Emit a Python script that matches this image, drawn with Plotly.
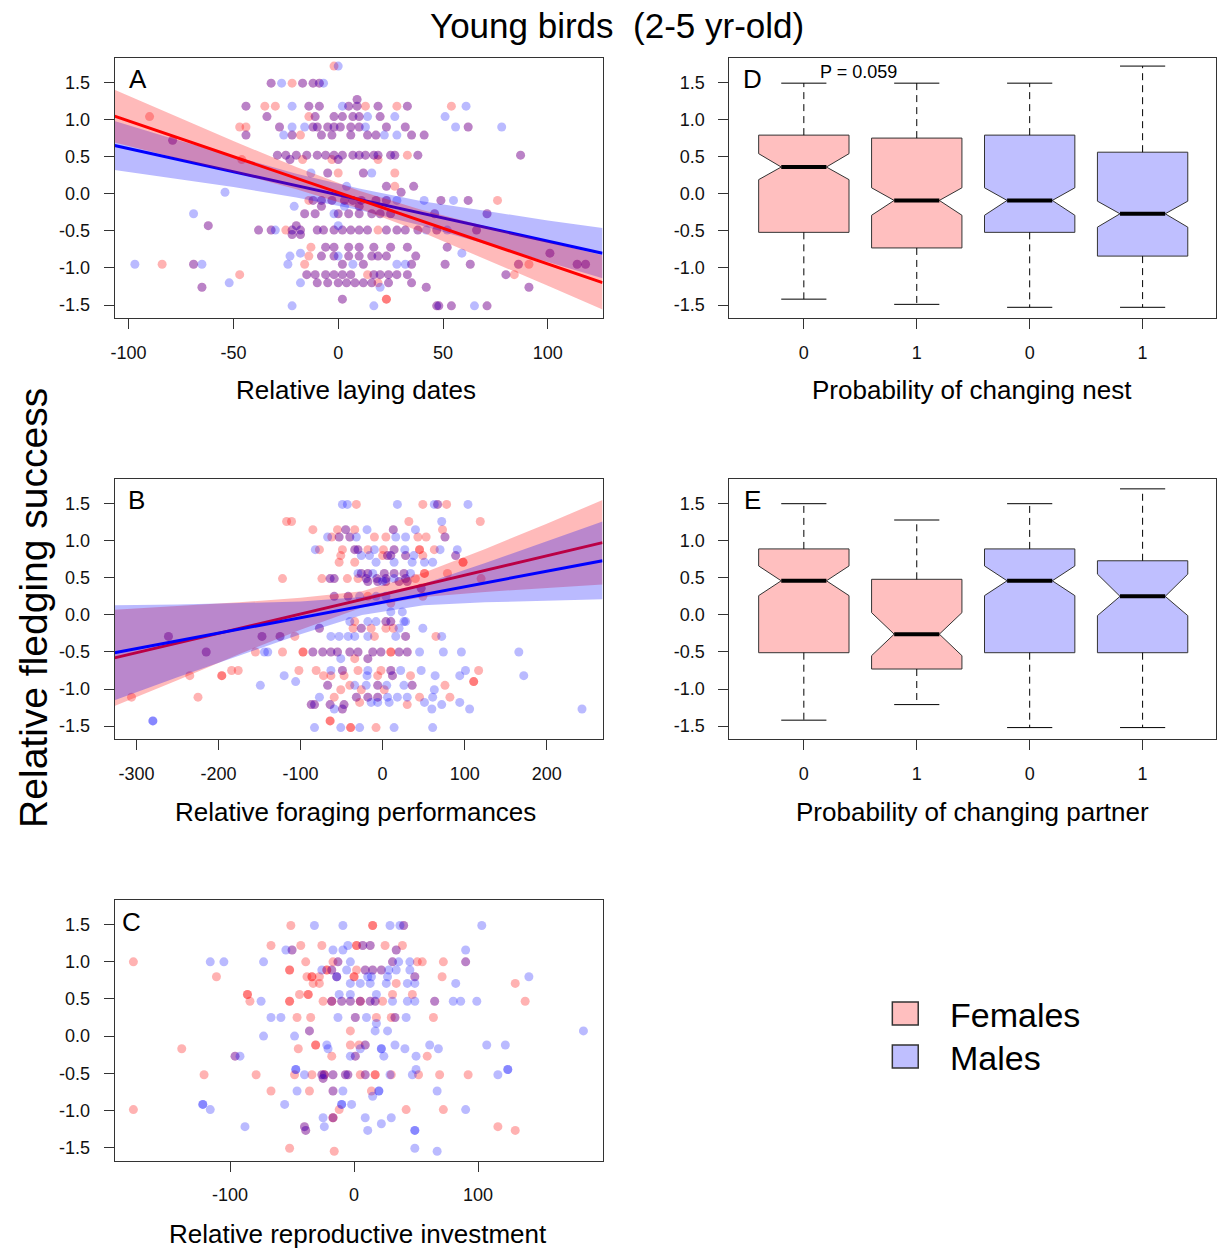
import plotly.graph_objects as go

W, H = 1217, 1249
FONT = "Liberation Sans, Arial, sans-serif"

# ---------------- data ----------------
# scatter rows: (relative fledging success, [x values...])
A_fem = [
    (1.72, [-2]), (1.49, [-32, -22, -17, -12, -9]), (1.27, [9]),
    (1.18, [-44, -35, -30, -14, -9, 5, 9, 13, 19, 28, 33, 54]),
    (1.04, [-90, -34, -14, -11, -2, 2, 7, 10, 20]),
    (0.90, [-47, -44, -28, -12, -10, -5, -2, 1, 6, 10, 23, 32, 62]),
    (0.79, [-44, -22, -18, -8, -3, 6, 14, 18, 35, 41]), (0.72, [-79]),
    (0.52, [-29, -25, -20, -15, -10, -6, -2, 2, 7, 10, 13, 17, 19, 25, 27, 33, 38, 87]),
    (0.46, [-46, -23, -17, -3, 0, 19]), (0.28, [-5, 0, 12, 27]), (0.10, [23, 27, 36]), (0.02, [30]),
    (-0.09, [-14, -12, -8, -3, 3, 7, 11, 18, 23, 49, 62, 76]), (-0.17, [-8, 10]),
    (-0.27, [-16, -11, 0, 5, 10, 16, 20, 25, 46, 71]), (-0.43, [-62, -20]),
    (-0.49, [-38, -32, -25, -22, -18, -10, -7, -2, 2, 6, 10, 14, 19, 23, 28, 32, 38, 47, 66]),
    (-0.55, [-22, -18]), (-0.72, [-13, -6, -2, 5, 10, 17, 25, 33, 52]), (-0.80, [101]),
    (-0.84, [-14, -8, -2, 5, 10, 16, 19, 23, 37]),
    (-0.95, [-84, -69, -16, 2, 12, 35, 51, 63, 86, 91, 114, 118]),
    (-1.09, [-47, -15, -11, -6, -2, 2, 6, 14, 17, 20, 24, 28, 33, 80, 84]),
    (-1.20, [-10, -5, 0, 4, 8, 12, 16, 19, 24, 35]), (-1.26, [-65, 42, 91]),
    (-1.42, [2, 23, 23]), (-1.51, [47, 48, 54, 71]),
]
A_mal = [
    (1.72, [0]), (1.49, [-32, -27, -17, -12, -9, -7]), (1.27, [9]),
    (1.18, [-44, -22, -14, -9, 2, 5, 9, 19, 33, 61]),
    (1.04, [-34, -11, -2, 2, 7, 10, 14, 20, 27, 51]),
    (0.90, [-28, -22, -16, -12, -10, -5, -2, 1, 6, 10, 13, 23, 32, 56, 62, 78]),
    (0.79, [-44, -26, -22, -8, -3, 6, 14, 18, 22, 28, 35, 41]), (0.72, [-79]),
    (0.52, [-29, -25, -20, -15, -10, -6, -2, 2, 7, 10, 13, 17, 19, 25, 27, 38, 87]),
    (0.46, [-23, 0]), (0.28, [-13, -5, 12, 16]), (0.10, [4, 23, 36]), (0.02, [-54, 30]),
    (-0.09, [-12, -8, -3, 3, 7, 11, 18, 23, 28, 41, 49, 55, 62]), (-0.17, [-21, -8, 3, 10]),
    (-0.27, [-69, -16, -11, -2, 0, 5, 10, 16, 20, 25, 46, 71]), (-0.43, [-62, -20, 0]),
    (-0.49, [-38, -32, -30, -22, -18, -10, -7, -2, 2, 6, 10, 14, 23, 28, 32, 38, 42, 47, 52, 66]),
    (-0.55, [-22, -18]), (-0.72, [-6, -2, 5, 10, 17, 25, 33, 52]), (-0.80, [-18, 59, 101]),
    (-0.84, [-23, -8, -2, 0, 5, 10, 16, 19, 23, 37]),
    (-0.95, [-97, -69, -65, -24, 2, 7, 12, 28, 32, 35, 51, 63, 86, 114, 118]),
    (-1.09, [-15, -11, -6, -2, 2, 6, 17, 20, 24, 28, 33, 80]),
    (-1.20, [-52, -18, -10, -5, 0, 4, 8, 12, 16, 24, 35]), (-1.26, [-65, 20, 42, 91]),
    (-1.42, [2]), (-1.51, [-22, 17, 47, 48, 54, 65, 71]),
]
B_fem = [
    (1.49, [-32, 49, 67, 78]), (1.26, [-117, -111, 32, 119]), (1.15, [-85, -55, -45, -34, 13, 73]),
    (1.05, [-62, -53, -40, -10, 4, 43, 53, 76]), (0.88, [-77, -49, -34, -30, -18, 1, 14, 45, 45, 63]),
    (0.80, [-51, 0, 6, 10, 28, 49, 89]), (0.71, [-53, -34, 98, 98]),
    (0.56, [-26, -18, 2, 14, 26, 51, 51, 79]),
    (0.49, [-122, -74, -64, -59, -43, -30, -20, -7, 4, 28, 40, 120]),
    (0.45, [-18, -6, 4, 20, 30]), (0.36, [47]), (0.25, [-59, -42, -18, 49]), (0.16, [10]),
    (-0.09, [-34, 4, 10]), (-0.18, [-77, -36, -26, -14, 4, 13]),
    (-0.29, [-261, -147, -125, -107, -10, 28, 65]),
    (-0.50, [-215, -155, -122, -97, -97, -85, -73, -63, -55, -40, -30, -12, -2, 10, 10, 20, 30]),
    (-0.59, [-34, -18]), (-0.75, [-184, -176, -102, -81, -49, -30, -2, 10, 117]),
    (-0.82, [-235, -196, -196, -72, -63, -47, -6, 12, 34]), (-0.90, [111, 111]),
    (-0.95, [-67, -40, -6, 36, 76]), (-1.01, [-51, -26, 2]),
    (-1.11, [-306, -225, -59, -32, -18, -6, 45, 82]), (-1.18, [-28]),
    (-1.21, [-87, -83, -64, -47, 30]), (-1.27, [-49]), (-1.43, [-64, -64]), (-1.52, [-39, -39, -8]),
]
B_mal = [
    (1.49, [-49, -43, 18, 63, 67, 104]), (1.26, [72]), (1.15, [-45, -19, 13, 40]),
    (1.05, [-67, -53, -40, -32, 16, 28, 76]), (0.88, [-82, -34, -30, -10, 14, 27, 70, 91]),
    (0.80, [-26, -16, 6, 10, 28, 38, 89]), (0.71, [-8, 14, 36, 51, 61]),
    (0.56, [-30, -26, -18, -12, 2, 14, 26, 34]), (0.49, [-64, -59, -20, -7, 4, 14, 28]),
    (0.45, [-18, -6, 0, 4, 20, 30]), (0.36, [47]), (0.25, [-59, -42, -28, -8, 4]), (0.04, [10, 24]),
    (-0.09, [-40, -18, -8, 4, 10, 26, 28]), (-0.18, [-77, -26, 20, 49]),
    (-0.29, [-261, -147, -125, -63, -53, -42, -34, -18, 16, 28, 72]),
    (-0.50, [-215, -144, -140, -85, -73, -63, -55, -40, -30, -12, -2, 20, 30, 45, 74, 96, 166]),
    (-0.59, [-51, -18]), (-0.75, [-63, -49, -18, 10, 22, 47, 101]),
    (-0.82, [-120, -19, 12, 64, 94, 172]), (-0.90, [-106]),
    (-0.95, [-149, -67, -34, -20, -6, 5, 26, 36]), (-1.01, [63]),
    (-1.11, [-77, -32, -18, -6, 6, 18, 30, 61]), (-1.18, [-14, -6, 8, 51, 94]),
    (-1.21, [-87, -83, -64, -47, 72]), (-1.27, [-59, -49, 60, 106, 243]),
    (-1.43, [-280, -280]), (-1.52, [-83, -51, -28, 14, 61]),
]
C_fem = [
    (1.49, [-51, 15, 15, 40]), (1.22, [-67, -43, -26, 2, 2, 7, 13, 25, 39]), (1.16, [-50, 34]),
    (1.00, [-178, -39, -17, -13, 31, 51, 55, 72, 90]), (0.89, [-52, -52, -22, -22, -18, 2, 9, 15, 22]),
    (0.80, [-111, -38, -34, -34, -28, -14, 0, 0, 49, 71]), (0.71, [-33, -28, 34, 130]),
    (0.56, [-86, -86, -44, -37, -37, 31, 47]),
    (0.47, [-84, -52, -52, -25, -18, -18, -10, -3, 5, 5, 13, 17, 23, 65, 138]),
    (0.25, [-46, -35, 1, 18, 30, 33, 64]), (0.07, [-36, -3]), (-0.12, [-31, -31, -3, 4, 9]),
    (-0.17, [-139, -45]), (-0.27, [-96, -18, 1, 59]),
    (-0.52, [-121, -79, -48, -34, -26, -24, -24, -17, -7, -5, 5, 9, 17, 17, 30, 52, 69, 92]),
    (-0.57, [-25]), (-0.74, [-67, -36, -17, 14]), (-0.99, [-178, -12, 42, 72]),
    (-1.10, [-17, -17]), (-1.22, [-40, 116]), (-1.27, [-39, 130]), (-1.51, [-52]), (-1.55, [-16]),
]
C_mal = [
    (1.49, [-32, -9, 29, 37, 40, 103]), (1.22, [-5, 7, 13]), (1.16, [-55, -50, -17, -9, 34, 90]),
    (1.00, [-116, -105, -73, -13, -3, 31, 36, 45, 90]), (0.89, [-26, -18, -6, 9, 15, 22, 28, 34, 45]),
    (0.80, [-14, -14, 11, 14, 27, 49, 141]), (0.71, [-3, 5, 13, 26, 43, 49, 82]), (0.56, [-12, -3, 18]),
    (0.47, [-75, -18, -10, -3, 5, 13, 17, 31, 43, 49, 65, 80, 86, 99]),
    (0.25, [-67, -59, -13, 1, 10, 33, 42]), (0.17, [18]), (0.07, [-36, 17, 27, 185]), (0.00, [-73, -48]),
    (-0.12, [-22, 9, 33, 61, 107, 122]), (-0.17, [-21, 5, 22, 22, 41, 68]),
    (-0.27, [-96, -92, -3, 1, 24, 50]), (-0.45, [-47, -47, 50, 124, 124]),
    (-0.52, [-40, -26, -24, -17, -7, -5, 9, 29, 47, 116]), (-0.57, [-25]),
    (-0.74, [-46, -17, -9, 20, 20, 67]), (-0.81, [15]), (-0.92, [-122, -122, -56, -10, -10, -2]),
    (-0.99, [-116, 90]), (-1.10, [-25, -17, 9, 30]), (-1.18, [22]), (-1.22, [-88, -40, -24]),
    (-1.27, [-39, 11, 49, 49]), (-1.51, [49]), (-1.55, [67]),
]

# regression fits (end points) and confidence bands
A_fit_x = [-106.7, 126.1]
A_fem_fit = [1.045, -1.197]
A_mal_fit = [0.650, -0.801]
A_band_x = [-106.7, -80, -50, -20, 10, 40, 70, 100, 126.1]
A_fem_hi = [1.40, 1.07, 0.71, 0.36, 0.04, -0.22, -0.44, -0.65, -0.83]
A_fem_lo = [0.69, 0.50, 0.29, 0.06, -0.20, -0.52, -0.88, -1.24, -1.56]
A_mal_hi = [0.98, 0.75, 0.51, 0.27, 0.07, -0.10, -0.23, -0.36, -0.46]
A_mal_lo = [0.32, 0.21, 0.09, -0.05, -0.22, -0.43, -0.67, -0.92, -1.14]

B_fit_x = [-326.7, 268]
B_fem_fit = [-0.580, 0.975]
B_mal_fit = [-0.510, 0.730]
B_band_x = [-326.7, -250, -175, -100, -25, 50, 125, 200, 268]
B_fem_hi = [0.07, 0.12, 0.17, 0.23, 0.32, 0.57, 0.89, 1.23, 1.55]
B_fem_lo = [-1.23, -0.88, -0.53, -0.20, 0.10, 0.24, 0.31, 0.36, 0.41]
B_mal_hi = [0.13, 0.14, 0.16, 0.18, 0.24, 0.42, 0.70, 0.99, 1.26]
B_mal_lo = [-1.15, -0.84, -0.55, -0.26, 0.00, 0.13, 0.17, 0.19, 0.21]

# notched boxplots: groups F-0, F-1, M-0, M-1
box_pos = [1, 2, 3, 4]
box_ticktext = ["0", "1", "0", "1"]
D_wlo = [-1.42, -1.49, -1.53, -1.53]
D_q1 = [-0.52, -0.73, -0.52, -0.84]
D_nlo = [0.19, -0.29, -0.29, -0.45]
D_med = [0.36, -0.09, -0.09, -0.27]
D_nhi = [0.54, 0.08, 0.08, -0.10]
D_q3 = [0.79, 0.75, 0.79, 0.56]
D_whi = [1.49, 1.49, 1.49, 1.72]

E_wlo = [-1.42, -1.21, -1.52, -1.52]
E_q1 = [-0.51, -0.73, -0.51, -0.51]
E_nlo = [0.26, -0.55, 0.26, -0.01]
E_med = [0.46, -0.26, 0.46, 0.25]
E_nhi = [0.66, 0.03, 0.66, 0.55]
E_q3 = [0.89, 0.48, 0.89, 0.73]
E_whi = [1.50, 1.28, 1.50, 1.70]

y_ticks = [-1.5, -1.0, -0.5, 0.0, 0.5, 1.0, 1.5]
y_ticktext = ["-1.5", "-1.0", "-0.5", "0.0", "0.5", "1.0", "1.5"]
A_xticks = [-100, -50, 0, 50, 100]
B_xticks = [-300, -200, -100, 0, 100, 200]
C_xticks = [-100, 0, 100]

# ---------------- styles ----------------
RED_PT = "rgba(255,0,0,0.30)"
BLUE_PT = "rgba(0,0,255,0.27)"
RED_BAND = "rgba(255,0,0,0.27)"
BLUE_BAND = "rgba(0,0,255,0.27)"
PINK = "#FFBFBF"
LBLUE = "#BFBFFF"
EDGE = "#333333"
box_fill = [PINK, PINK, LBLUE, LBLUE]

fig = go.Figure()


def flatten(rows):
    xs, ys = [], []
    for yv, row in rows:
        for xv in row:
            xs.append(xv)
            ys.append(yv)
    return xs, ys


def ax_names(s):
    return dict(xaxis="x" + s, yaxis="y" + s)


def add_points(rows, color, s):
    xs, ys = flatten(rows)
    fig.add_trace(go.Scatter(x=xs, y=ys, mode="markers",
                             marker=dict(size=9, color=color, line=dict(width=0)),
                             hoverinfo="skip", showlegend=False, **ax_names(s)))


def add_band(bx, lo, hi, color, s):
    fig.add_trace(go.Scatter(x=list(bx) + list(bx)[::-1], y=list(hi) + list(lo)[::-1],
                             mode="lines", fill="toself", fillcolor=color, line=dict(width=0),
                             hoverinfo="skip", showlegend=False, **ax_names(s)))


def add_line(fx, fy, color, s):
    fig.add_trace(go.Scatter(x=fx, y=fy, mode="lines", line=dict(color=color, width=3),
                             hoverinfo="skip", showlegend=False, **ax_names(s)))


def add_boxes(wlo, q1, nlo, med, nhi, q3, whi, s):
    hw = 0.4
    for i, p in enumerate(box_pos):
        px = [p - hw, p - hw, p - hw / 2, p - hw, p - hw, p + hw, p + hw, p + hw / 2, p + hw, p + hw, p - hw]
        py = [q1[i], nlo[i], med[i], nhi[i], q3[i], q3[i], nhi[i], med[i], nlo[i], q1[i], q1[i]]
        fig.add_trace(go.Scatter(x=px, y=py, mode="lines", fill="toself", fillcolor=box_fill[i],
                                 line=dict(color=EDGE, width=1), hoverinfo="skip",
                                 showlegend=False, **ax_names(s)))
        fig.add_trace(go.Scatter(x=[p - hw / 2, p + hw / 2], y=[med[i], med[i]], mode="lines",
                                 line=dict(color="black", width=4), hoverinfo="skip",
                                 showlegend=False, **ax_names(s)))
        for a, b in ((q3[i], whi[i]), (q1[i], wlo[i])):
            fig.add_trace(go.Scatter(x=[p, p], y=[a, b], mode="lines",
                                     line=dict(color="black", width=1, dash="7px,5px"),
                                     hoverinfo="skip", showlegend=False, **ax_names(s)))
        for v in (whi[i], wlo[i]):
            fig.add_trace(go.Scatter(x=[p - 0.2, p + 0.2], y=[v, v], mode="lines",
                                     line=dict(color="black", width=1), hoverinfo="skip",
                                     showlegend=False, **ax_names(s)))


# Panel A
add_points(A_fem, RED_PT, "")
add_points(A_mal, BLUE_PT, "")
add_band(A_band_x, A_mal_lo, A_mal_hi, BLUE_BAND, "")
add_line(A_fit_x, A_mal_fit, "#0000FF", "")
add_band(A_band_x, A_fem_lo, A_fem_hi, RED_BAND, "")
add_line(A_fit_x, A_fem_fit, "#FF0000", "")

# Panel B
add_points(B_fem, RED_PT, "2")
add_points(B_mal, BLUE_PT, "2")
add_band(B_band_x, B_fem_lo, B_fem_hi, RED_BAND, "2")
add_line(B_fit_x, B_fem_fit, "#FF0000", "2")
add_band(B_band_x, B_mal_lo, B_mal_hi, BLUE_BAND, "2")
add_line(B_fit_x, B_mal_fit, "#0000FF", "2")

# Panel C
add_points(C_fem, RED_PT, "3")
add_points(C_mal, BLUE_PT, "3")

# Panels D, E
add_boxes(D_wlo, D_q1, D_nlo, D_med, D_nhi, D_q3, D_whi, "4")
add_boxes(E_wlo, E_q1, E_nlo, E_med, E_nhi, E_q3, E_whi, "5")


def px_x(v):
    return v / W


def px_y(v):
    return 1 - v / H


tickfont = dict(family=FONT, size=18, color="#111111")
common = dict(ticks="outside", ticklen=10, tickwidth=1, tickcolor=EDGE, showline=True,
              linecolor=EDGE, linewidth=1, mirror=True, showgrid=False, zeroline=False,
              tickfont=tickfont, fixedrange=True)

left_dom = [px_x(111), px_x(601)]
right_dom = [px_x(728.3), 1.0]
row1 = [px_y(318.3), px_y(57.7)]
row2 = [px_y(739.3), px_y(479)]
row3 = [px_y(1160.7), px_y(900)]
yrange = [-1.678, 1.833]

panels = [
    ("", left_dom, row1, [-106.7, 126.1], A_xticks, [str(v) for v in A_xticks]),
    ("2", left_dom, row2, [-326.7, 268], B_xticks, [str(v) for v in B_xticks]),
    ("3", left_dom, row3, [-193.2, 200.4], C_xticks, [str(v) for v in C_xticks]),
    ("4", right_dom, row1, [0.34, 4.65], box_pos, box_ticktext),
    ("5", right_dom, row2, [0.34, 4.65], box_pos, box_ticktext),
]
layout_axes = {}
for s, xd, yd, xr, xt, xtt in panels:
    layout_axes["xaxis" + s] = dict(domain=xd, range=xr, tickvals=xt, ticktext=xtt,
                                    anchor="y" + s, ticklabelstandoff=8, **common)
    layout_axes["yaxis" + s] = dict(domain=yd, range=yrange, tickvals=y_ticks, ticktext=y_ticktext,
                                    anchor="x" + s, ticklabelstandoff=10, **common)

annotations = []


def text(x, y, s, size, xanchor="center", angle=0):
    annotations.append(dict(x=px_x(x), y=px_y(y), xref="paper", yref="paper", text=s,
                            showarrow=False, xanchor=xanchor, yanchor="middle", textangle=angle,
                            font=dict(family=FONT, size=size, color="#000000")))


text(616, 25, "Young birds \u00a0(2-5 yr-old)", 35)
text(30, 608, "Relative fledging success", 39, angle=-90)
text(353, 390, "Relative laying dates", 26)
text(353, 812, "Relative foraging performances", 26)
text(355, 1234, "Relative reproductive investment", 26)
text(972, 390, "Probability of changing nest", 26)
text(972, 812, "Probability of changing partner", 26)
text(124, 79, "A", 26, xanchor="left")
text(123, 500, "B", 26, xanchor="left")
text(116, 922, "C", 26, xanchor="left")
text(740, 79, "D", 26, xanchor="left")
text(741, 500, "E", 26, xanchor="left")
text(858, 72, "P = 0.059", 18)
text(948, 1015, "Females", 34, xanchor="left")
text(948, 1058, "Males", 34, xanchor="left")

shapes = [
    dict(type="rect", xref="paper", yref="paper", x0=px_x(892), x1=px_x(918), y0=px_y(1025),
         y1=px_y(1002), fillcolor=PINK, line=dict(color=EDGE, width=1.5)),
    dict(type="rect", xref="paper", yref="paper", x0=px_x(892), x1=px_x(918), y0=px_y(1068),
         y1=px_y(1045), fillcolor=LBLUE, line=dict(color=EDGE, width=1.5)),
]

fig.update_layout(width=W, height=H, autosize=False, margin=dict(l=0, r=0, t=0, b=0),
                  paper_bgcolor="white", plot_bgcolor="white", showlegend=False,
                  annotations=annotations, shapes=shapes, font=dict(family=FONT),
                  **layout_axes)

fig.write_html("out.html", config=dict(displayModeBar=False),
               post_script="document.body.style.margin='0';document.body.style.overflow='hidden';")
